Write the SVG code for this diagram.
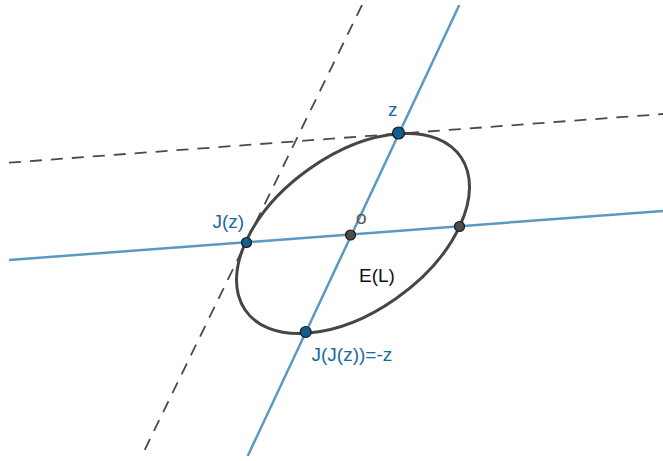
<svg xmlns="http://www.w3.org/2000/svg" width="663" height="461" viewBox="0 0 663 461">
<defs>
<clipPath id="view"><rect x="9" y="5" width="660" height="451"/></clipPath>
<style>
.blue{stroke:#5b9ac0;stroke-width:2.5;fill:none}
.dash{stroke:#4a4a4a;stroke-width:1.8;fill:none;stroke-dasharray:12 9}
.ell{stroke:#464646;stroke-width:3;fill:none}
.pb{fill:#0f5e8f;stroke:#1a1a1a;stroke-width:1.2}
.pd{fill:#4d4d4d;stroke:#1a1a1a;stroke-width:1.2}
.lb{font-family:"Liberation Sans",Arial,sans-serif;font-size:19px;fill:#1b6a9a}
.lk{font-family:"Liberation Sans",Arial,sans-serif;font-size:19px;fill:#111}
.lg{font-family:"Liberation Sans",Arial,sans-serif;font-size:19px;fill:#555}
</style>
</defs>
<rect width="663" height="461" fill="#fff"/>
<g id="connectors" clip-path="url(#view)">
<line class="dash" x1="9" y1="162.7" x2="663" y2="114"/>
<line class="dash" x1="362" y1="5" x2="141.7" y2="456"/>
<line class="blue" x1="459.3" y1="5" x2="247.7" y2="456"/>
<line class="blue" x1="9" y1="260" x2="663" y2="211"/>
</g>
<g id="ellipse">
<path class="ell" d="M460,225.7 C485.41,170.64 458.10,129.49 399,133.8 C339.90,138.11 271.41,186.24 246,241.3 C220.59,296.36 247.90,337.51 307,333.2 C366.10,328.89 434.59,280.76 460,225.7 Z"/>
<text class="lk" x="359" y="282">E(L)</text>
</g>
<g id="node-z">
<circle class="pb" cx="398.5" cy="133" r="6"/>
<text class="lb" x="388" y="115.7">z</text>
</g>
<g id="node-Jz">
<circle class="pb" cx="246.5" cy="242.5" r="5"/>
<text class="lb" x="212.5" y="228">J(z)</text>
</g>
<g id="node-minus-z">
<circle class="pb" cx="305.7" cy="332" r="5.5"/>
<text class="lb" x="311.5" y="361">J(J(z))=-z</text>
</g>
<g id="node-O">
<circle class="pd" cx="350.5" cy="235" r="5"/>
<text class="lg" x="356" y="224.3">o</text>
</g>
<g id="node-right">
<circle class="pd" cx="459.5" cy="226.5" r="5"/>
</g>
</svg>
